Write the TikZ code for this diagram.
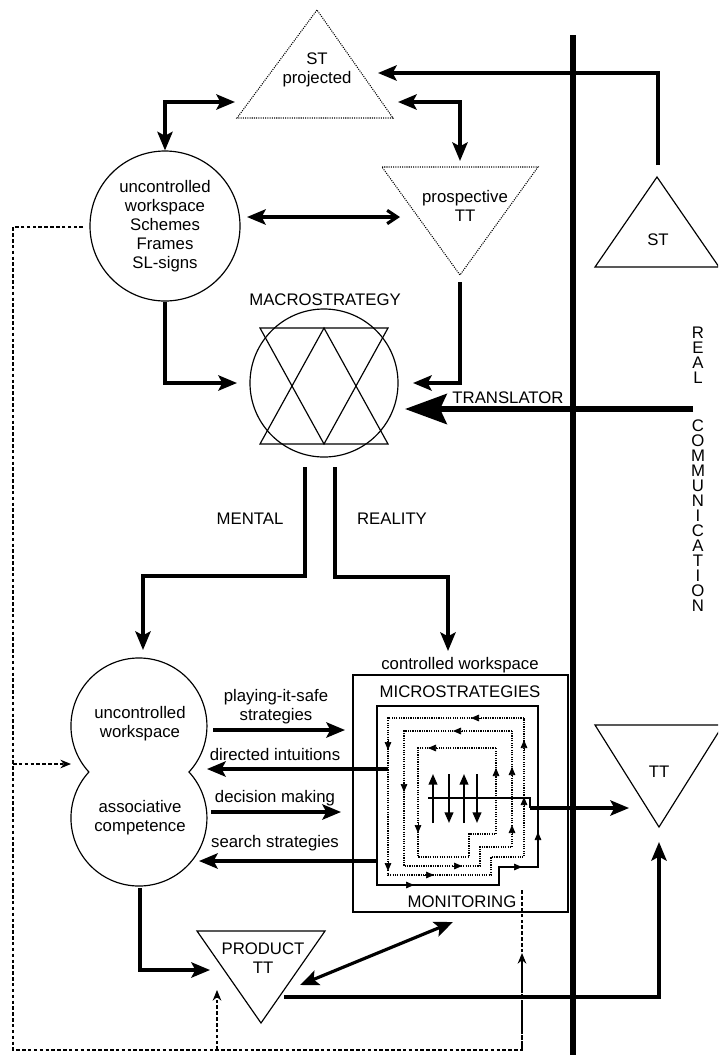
\documentclass[tikz,border=0pt]{standalone}
\usepackage{fontspec}
\setmainfont{Liberation Sans}
\usetikzlibrary{arrows.meta, positioning, calc}
\tikzset{
  every picture/.style={font=\fontsize{14.3}{16.2}\selectfont, line width=1pt},
  lbl/.style={inner sep=0pt, align=center},
  dotshape/.style={densely dotted, line width=0.9pt},
  arrow/.style={-{Stealth[length=5.6mm, width=4.6mm, inset=1.2mm]}, line width=2.7pt},
  biarrow/.style={{Stealth[length=5.6mm, width=4.6mm, inset=1.2mm]}-{Stealth[length=5.6mm, width=4.6mm, inset=1.2mm]}, line width=2.7pt},
  translator/.style={-{Stealth[length=12.5mm, width=9mm, inset=2mm]}, line width=5pt},
  feedback/.style={densely dashed, line width=0.9pt},
  fbarrow/.style={feedback, -{Stealth[length=3.2mm, width=2.6mm]}},
  loopline/.style={densely dotted, line width=1pt},
  looptip/.style={-{Triangle[length=2.4mm, width=2mm]}, line width=0.6pt},
  strand/.style={-{Triangle[length=3.2mm, width=2.6mm]}, line width=1.6pt},
}

\begin{document}
\begin{tikzpicture}[x=0.03cm, y=-0.03cm]
  \useasboundingbox (0,0) rectangle (718,1055);
  \clip (0,0) rectangle (718,1055);

  % real communication divider
  \coordinate (bartop) at (573,35);
  \coordinate (barbot) at (573,1055);
  \draw[line width=5pt] (bartop) -- (barbot);
  \foreach \c [count=\i] in {R,E,A,L}
    \node[lbl] (real\i) at (698,318+15*\i) {\c};
  \foreach \c [count=\i] in {C,O,M,M,U,N,I,C,A,T,I,O,N}
    \node[lbl] (comm\i) at (698,411+15*\i) {\c};

  % texts: source and target side
  \draw (657,177) -- (595,267) -- (719,267) -- cycle;
  \node[lbl] (st) at (658,240) {ST};
  \draw (595,725) -- (723,725) -- (659,827) -- cycle;
  \node[lbl] (tt) at (659,772) {TT};

  % projected texts
  \draw[dotshape] (317,10) -- (237,118) -- (393,118) -- cycle;
  \node[lbl] (stproj) at (317,70) {ST\\projected};
  \draw[dotshape] (382,167) -- (538,167) -- (460,275) -- cycle;
  \node[lbl] (prosp) at (465,206) {prospective\\TT};

  % uncontrolled workspace (top)
  \node[draw, circle, minimum size=4.5cm, inner sep=0pt, align=center] (ucw) at (165,226)
    {uncontrolled\\workspace\\Schemes\\Frames\\SL-signs};

  % macrostrategy
  \node[lbl] (macrolbl) at (325,300) {MACROSTRATEGY};
  \node[draw, circle, minimum size=4.44cm, inner sep=0pt] (macro) at (324,383) {};
  \draw (260,328) -- (388,328) -- (324,444) -- cycle;
  \draw (260,444) -- (388,444) -- (324,328) -- cycle;

  % translator
  \coordinate (trstart) at (693,409);
  \coordinate (macroT) at (405,409);
  \draw[translator] (trstart) -- (macroT);
  \node[lbl] (trlbl) at (508,398) {TRANSLATOR};

  % top connectors
  \coordinate (stN) at (658,165);
  \coordinate (stprojR) at (378,73);
  \coordinate (stprojW) at (235,102);
  \coordinate (stprojE) at (398,102);
  \coordinate (prospN) at (460,161);
  \coordinate (prospS) at (460,282);
  \coordinate (ucwE) at (247,217);
  \coordinate (prospW) at (400,217);
  \coordinate (macroW) at (237,383);
  \coordinate (macroE) at (413,383);
  \draw[arrow] (stN) |- (stprojR);
  \draw[biarrow] (ucw.north) |- (stprojW);
  \draw[biarrow] (stprojE) -| (prospN);
  \draw[{Stealth[length=5.6mm, width=4.6mm, inset=1.2mm]}-{Straight Barb[length=3mm, width=4mm]}, line width=2.7pt] (ucwE) -- (prospW);
  \draw[arrow] (ucw.south) |- (macroW);
  \draw[arrow] (prospS) |- (macroE);

  % mental / reality
  \node[lbl] (mental) at (250,519) {MENTAL};
  \node[lbl] (reality) at (392,519) {REALITY};
  \coordinate (mentalS) at (305,467);
  \coordinate (realityS) at (335,467);
  \coordinate (peanutN) at (143,650);
  \coordinate (cwsN) at (448,651);
  \draw[arrow] (mentalS) -- (305,576) -| (peanutN);
  \draw[arrow] (realityS) -- (335,577) -| (cwsN);

  % uncontrolled workspace + associative competence
  \draw (189,772) arc[start angle=-42.6, end angle=222.6, radius=68]
                  arc[start angle=137.4, end angle=402.6, radius=68] -- cycle;
  \node[lbl] (ucwlow) at (140,724) {uncontrolled\\workspace};
  \node[lbl] (assoc) at (140,818) {associative\\competence};

  % controlled workspace
  \node[draw, minimum width=6.45cm, minimum height=7.11cm, inner sep=0pt] (cws) at (460.5,793.5) {};
  \node[lbl] (cwslbl) at (460,665) {controlled workspace};
  \node[lbl] (micro) at (460,692) {MICROSTRATEGIES};
  \node[lbl] (monit) at (462,902) {MONITORING};

  % microstrategy loops
  \foreach \r/\t/\l/\b/\s/\h/\sty in {538/706/377/885/499/867/solid,
      524/718/388/875/491/857/loopline, 512/731/404/866/480/847/loopline,
      496/748/418/857/469/834/loopline}
    \draw[\sty] (\r,\t) -- (\l,\t) -- (\l,\b) -- (\s,\b) -- (\s,\h) -- (\r,\h) -- cycle;
  \foreach \x/\y/\dx/\dy in {404/885/10/0, 512/867/10/0, 538/842/0/-10,
      481/718/-10/0, 388/740/0/10, 388/861/0/10, 424/875/10/0, 524/750/0/-10, 524/807/0/-10,
      463/731/-10/0, 404/782/0/10, 452/866/10/0, 512/777/0/-10, 512/835/0/-10,
      438/748/-10/0, 418/823/0/10, 496/778/0/-10}
    \draw[looptip] (\x,\y) -- ++(\dx,\dy);
  \foreach \x/\ya/\yb in {433/823/774, 449/774/823, 464/823/774, 477/774/823}
    \draw[strand] (\x,\ya) -- (\x,\yb);

  % arrows between the workspaces
  \node[lbl] (pis) at (276,707) {playing-it-safe\\strategies};
  \node[lbl] (dint) at (275,755) {directed intuitions};
  \node[lbl] (dmk) at (275,798) {decision making};
  \node[lbl] (sst) at (275,843) {search strategies};
  \coordinate (pisA) at (213,730);
  \coordinate (pisB) at (345,730);
  \coordinate (dintA) at (388,769);
  \coordinate (dintB) at (207,769);
  \coordinate (dmkA) at (211,812);
  \coordinate (dmkB) at (341,812);
  \coordinate (sstA) at (377,861);
  \coordinate (sstB) at (199,861);
  \draw[arrow] (pisA) -- (pisB);
  \draw[arrow] (dintA) -- (dintB);
  \draw[arrow] (dmkA) -- (dmkB);
  \draw[arrow] (sstA) -- (sstB);

  % microstrategies out to TT
  \coordinate (mazeout) at (428,798);
  \coordinate (mazeR) at (530,808);
  \coordinate (ttW) at (629,808);
  \draw[line width=1.4pt] (mazeout) -- (530,798) -- (mazeR);
  \draw[arrow] (mazeR) -- (ttW);

  % product TT
  \draw (197,931) -- (325,931) -- (261,1023) -- cycle;
  \node[lbl] (product) at (263,958) {PRODUCT\\TT};
  \coordinate (assocS) at (140,888);
  \coordinate (prodW) at (210,970);
  \coordinate (prodE) at (300,985);
  \coordinate (monS) at (453,922);
  \coordinate (prodR) at (284,997);
  \coordinate (ttS) at (659,842);
  \draw[arrow] (assocS) |- (prodW);
  \draw[biarrow] (prodE) -- (monS);
  \draw[arrow] (prodR) -| (ttS);

  % feedback (dashed)
  \coordinate (ucwW) at (83,227);
  \coordinate (peanutW) at (71,764);
  \coordinate (prodS) at (217,990);
  \coordinate (monB) at (522,890);
  \draw[feedback] (ucwW) -- (13,227) -- (13,1050) -- (522,1050) -- (monB);
  \draw[fbarrow] (13,764) -- (peanutW);
  \draw[fbarrow] (217,1050) -- (prodS);
  \draw[fbarrow] (522,1050) -- (522,953);
\end{tikzpicture}
\end{document}
